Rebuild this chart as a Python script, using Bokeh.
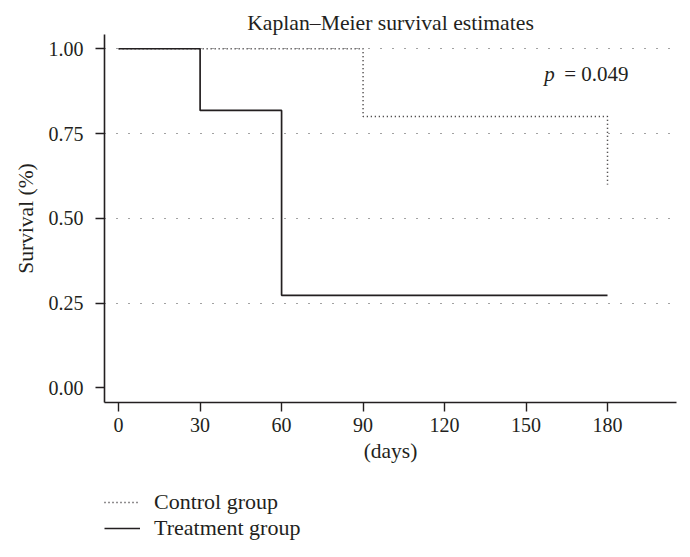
from bokeh.plotting import figure
from bokeh.layouts import column
from bokeh.models import Legend, LegendItem, Label, FixedTicker, NumeralTickFormatter
from bokeh.embed import file_html
from bokeh.resources import INLINE

# Data
treat_days = [0, 30, 60, 180]
treat_surv = [1.0, 0.818, 0.273, 0.273]
ctrl_days = [0, 90, 180]
ctrl_surv = [1.0, 0.8, 0.6]
x_ticks = [0, 30, 60, 90, 120, 150, 180]
y_ticks = [0.0, 0.25, 0.5, 0.75, 1.0]
grid_ticks = [0.25, 0.5, 0.75, 1.0]
p_value = 0.049
series_names = ["Control group", "Treatment group"]

FONT = "Liberation Serif"
INK = "#231f20"
CTRL_DASH = "1 3"

p = figure(width=690, height=474, x_range=(-5.2, 205.4), y_range=(-0.043, 1.042),
           output_backend="svg", toolbar_location=None,
           min_border_left=104, min_border_right=14, min_border_top=34, min_border_bottom=72,
           title="Kaplan\u2013Meier survival estimates")
p.outline_line_color = None
p.background_fill_color = "white"
p.border_fill_color = "white"

p.title.align = "center"
p.title.text_font = FONT
p.title.text_font_size = "21.7px"
p.title.text_font_style = "normal"
p.title.text_color = INK
p.title.standoff = 0

# Grid
p.xgrid.visible = False
p.ygrid.ticker = FixedTicker(ticks=grid_ticks)
p.ygrid.grid_line_color = "#444444"
p.ygrid.grid_line_dash = "1 11"
p.ygrid.grid_line_width = 1.2

for ax in (p.xaxis[0], p.yaxis[0]):
    ax.axis_line_color = INK
    ax.axis_line_width = 1.6
    ax.major_tick_line_color = INK
    ax.major_tick_line_width = 1.4
    ax.major_tick_out = 9
    ax.major_tick_in = 0
    ax.minor_tick_line_color = None
    ax.major_label_text_font = FONT
    ax.major_label_text_font_size = "20px"
    ax.major_label_text_color = INK
    ax.axis_label_text_font = FONT
    ax.axis_label_text_font_size = "21.5px"
    ax.axis_label_text_font_style = "normal"
    ax.axis_label_text_color = INK

p.xaxis.ticker = FixedTicker(ticks=x_ticks)
p.xaxis.major_label_standoff = 6
p.xaxis.axis_label = "(days)"
p.xaxis.axis_label_standoff = 4

p.yaxis.ticker = FixedTicker(ticks=y_ticks)
p.yaxis.formatter = NumeralTickFormatter(format="0.00")
p.yaxis.major_label_standoff = 12
p.yaxis.axis_label = "Survival (%)"
p.yaxis.axis_label_standoff = 8

p.step(ctrl_days, ctrl_surv, mode="after", line_color=INK, line_width=1.5, line_dash=CTRL_DASH)
p.step(treat_days, treat_surv, mode="after", line_color=INK, line_width=1.7)

p.add_layout(Label(x=156.7, y=0.927, text="p", text_font=FONT, text_font_size="21px",
                   text_font_style="italic", text_color=INK, text_baseline="middle"))
p.add_layout(Label(x=156.7, y=0.927, x_offset=20, text=f"= {p_value}", text_font=FONT,
                   text_font_size="21px", text_font_style="normal", text_color=INK,
                   text_baseline="middle"))

# Legend strip below the chart
leg = figure(width=690, height=83, x_range=(0, 1), y_range=(0, 1),
             output_backend="svg", toolbar_location=None, min_border=0,
             x_axis_location=None, y_axis_location=None)
leg.outline_line_color = None
leg.grid.visible = False
leg.border_fill_color = "white"
leg.background_fill_color = "white"
ctrl_r = leg.line(x=ctrl_days[:1], y=ctrl_surv[:1], line_color=INK, line_width=1.5, line_dash=CTRL_DASH)
treat_r = leg.line(x=treat_days[:1], y=treat_surv[:1], line_color=INK, line_width=1.7)

legend = Legend(items=[LegendItem(label=series_names[0], renderers=[ctrl_r]),
                       LegendItem(label=series_names[1], renderers=[treat_r])],
                location=(0, 16), orientation="vertical",
                glyph_width=36, glyph_height=20, label_height=20, spacing=0,
                label_standoff=14, padding=0, margin=0,
                border_line_color=None, background_fill_alpha=0,
                label_text_font=FONT, label_text_font_size="22px", label_text_color=INK)
leg.add_layout(legend, "center")

open("out.html", "w").write(file_html(column(p, leg, spacing=0), INLINE))
